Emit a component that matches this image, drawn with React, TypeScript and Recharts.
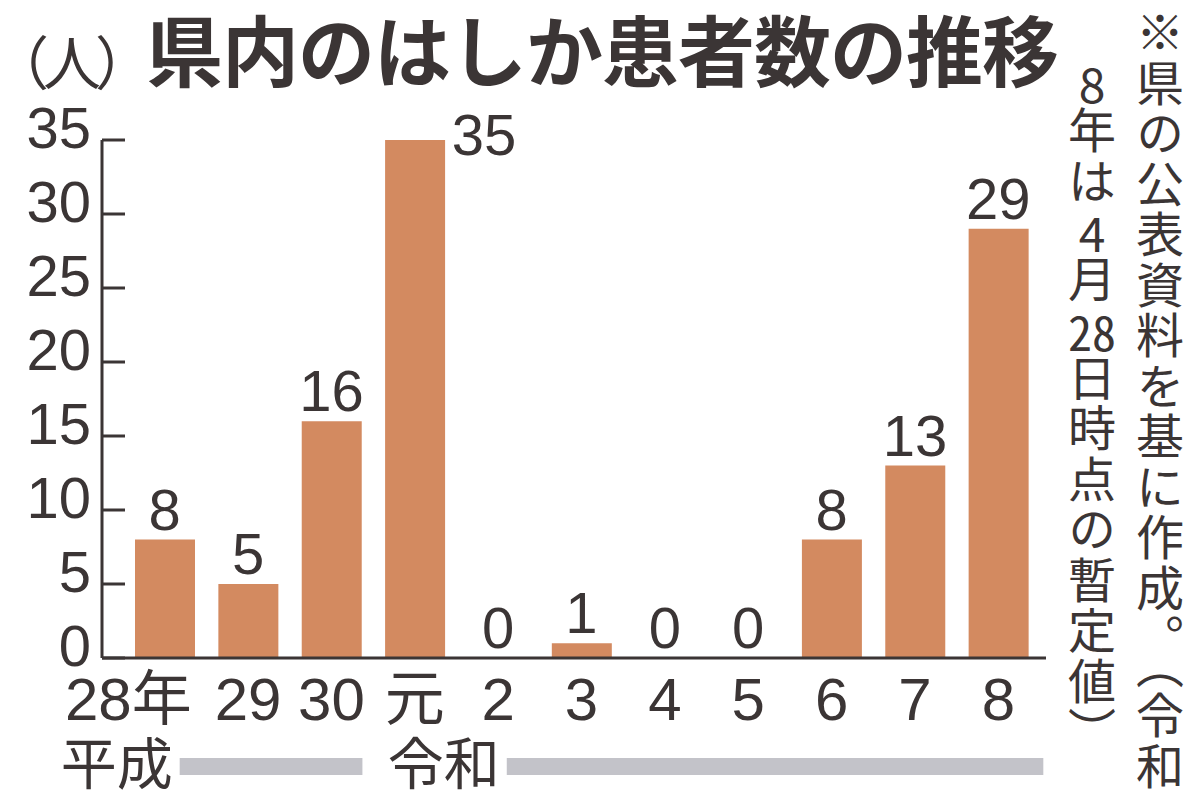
import React from 'react'
import { ComposedChart, Bar, Line, XAxis, YAxis, LabelList } from 'recharts'

// years on the x axis (平成28年 .. 令和8年)
const years = ['28年', '29', '30', '元', '2', '3', '4', '5', '6', '7', '8']
// measles patients per year
const patients = [8, 5, 16, 35, 0, 1, 0, 0, 8, 13, 29]
const yTicks = [0, 5, 10, 15, 20, 25, 30, 35]

// era bands below the axis: name, first and last index
const eraNames = ['平成', '令和']
const eraFirst = [0, 3]
const eraLast = [2, 10]

const INK = '#3b3535'
const BAR = '#d38a60'
const ERA_GRAY = '#c3c3c9'
const NUM_FONT = "'Liberation Sans', Arial, 'Noto Sans CJK JP', sans-serif"
const JP_FONT = "'Noto Sans CJK JP', sans-serif"

const W = 1200
const H = 807
const AXIS_X = 102
const PLOT_TOP = 140
const AXIS_Y = 658
const PLOT_RIGHT = 1046
const PAD_L = 21
const PAD_R = 6
const BAR_W = 60
const STEP = (PLOT_RIGHT - PAD_R - AXIS_X - PAD_L) / years.length

const data = years.map((year, i) => ({ year, count: patients[i] }))
const maxCount = Math.max(...patients)

function YTick(props: any) {
  const { y, payload } = props
  return (
    <g>
      <line x1={AXIS_X} x2={AXIS_X + 23} y1={y} y2={y} stroke={INK} strokeWidth={3} />
      <text x={91} y={y + 8} textAnchor="end" fontSize={58} fill={INK} fontFamily={NUM_FONT}>
        {payload.value}
      </text>
    </g>
  )
}

// per-era label end / bar tail offsets (relative to tick centres)
const eraTextEnd = [8, 85]
const eraTail = [31, 45]

function XTick(props: any) {
  const { x, payload, index } = props
  const first = index === 0
  const e = eraFirst.indexOf(index)
  let era = null
  if (e >= 0) {
    const textEnd = x + eraTextEnd[e]
    const barEnd = x + (eraLast[e] - eraFirst[e]) * STEP + eraTail[e]
    era = (
      <g>
        <text x={textEnd} y={784} textAnchor="end" fontSize={56} fill={INK} fontFamily={JP_FONT}>
          {eraNames[e]}
        </text>
        <rect x={textEnd + 7} y={758} width={barEnd - textEnd - 7} height={17} fill={ERA_GRAY} />
      </g>
    )
  }
  return (
    <g>
      <text
        x={first ? x + 27 : x}
        y={720}
        textAnchor={first ? 'end' : 'middle'}
        fontSize={60}
        fill={INK}
        fontFamily={NUM_FONT}
      >
        {payload.value}
      </text>
      {era}
    </g>
  )
}

// labels hang off an invisible line so zero values get one too
function ValueLabel(props: any) {
  const vb = props.viewBox || {}
  const x = (props.x ?? vb.x) + (props.width ?? vb.width ?? 0) / 2
  const y = props.y ?? vb.y
  const value = props.value
  if (value === maxCount) {
    return (
      <text x={x + BAR_W / 2 + 7} y={y + 15} textAnchor="start" fontSize={58} fill={INK} fontFamily={NUM_FONT}>
        {value}
      </text>
    )
  }
  return (
    <text x={x} y={y - 10} textAnchor="middle" fontSize={58} fill={INK} fontFamily={NUM_FONT}>
      {String(value)}
    </text>
  )
}

export default function App() {
  return (
    <div style={{ position: 'absolute', left: 0, top: 0, width: W, height: H, background: '#fff', overflow: 'hidden' }}>
      <ComposedChart
        width={W}
        height={H}
        data={data}
        margin={{ top: PLOT_TOP, right: W - PLOT_RIGHT, bottom: 0, left: 0 }}
      >
        <XAxis
          dataKey="year"
          height={H - AXIS_Y}
          axisLine={{ stroke: INK, strokeWidth: 3 }}
          tickLine={false}
          interval={0}
          padding={{ left: PAD_L, right: PAD_R }}
          tick={<XTick />}
        />
        <YAxis
          type="number"
          width={AXIS_X}
          domain={[0, 35]}
          ticks={yTicks}
          interval={0}
          axisLine={{ stroke: INK, strokeWidth: 3 }}
          tickLine={false}
          tick={<YTick />}
        />
        <Bar dataKey="count" fill={BAR} barSize={BAR_W} isAnimationActive={false} />
        <Line
          dataKey="count"
          stroke="none"
          dot={false}
          activeDot={false}
          legendType="none"
          isAnimationActive={false}
        >
          <LabelList dataKey="count" content={ValueLabel} />
        </Line>
      </ComposedChart>

      <div
        style={{
          position: 'absolute', left: 18, top: 31, fontSize: 58, lineHeight: '58px',
          fontFamily: JP_FONT, color: INK, fontFeatureSettings: "'palt'", letterSpacing: -4, whiteSpace: 'nowrap',
        }}
      >
        （人）
      </div>
      <div
        style={{
          position: 'absolute', left: 146, top: 9, width: 920, fontSize: 77, lineHeight: '77px',
          fontFamily: JP_FONT, fontWeight: 700, color: INK, whiteSpace: 'nowrap', letterSpacing: -1,
        }}
      >
        県内のはしか患者数の推移
      </div>

      <div
        style={{
          position: 'absolute', left: 1136, top: 8, fontSize: 48, lineHeight: '48px',
          fontFamily: JP_FONT, color: INK, writingMode: 'vertical-rl', letterSpacing: 2.5, whiteSpace: 'nowrap',
        }}
      >
        ※県の公表資料を基に作成。（令和
      </div>
      <div
        style={{
          position: 'absolute', left: 1068, top: 58, fontSize: 48, lineHeight: '48px',
          fontFamily: JP_FONT, color: INK, writingMode: 'vertical-rl', letterSpacing: 2.5, whiteSpace: 'nowrap',
        }}
      >
        <span style={{ textCombineUpright: 'all' } as any}>8</span>年は
        <span style={{ textCombineUpright: 'all' } as any}>4</span>月
        <span style={{ textCombineUpright: 'all' } as any}>28</span>日時点の暫定値）
      </div>
    </div>
  )
}
